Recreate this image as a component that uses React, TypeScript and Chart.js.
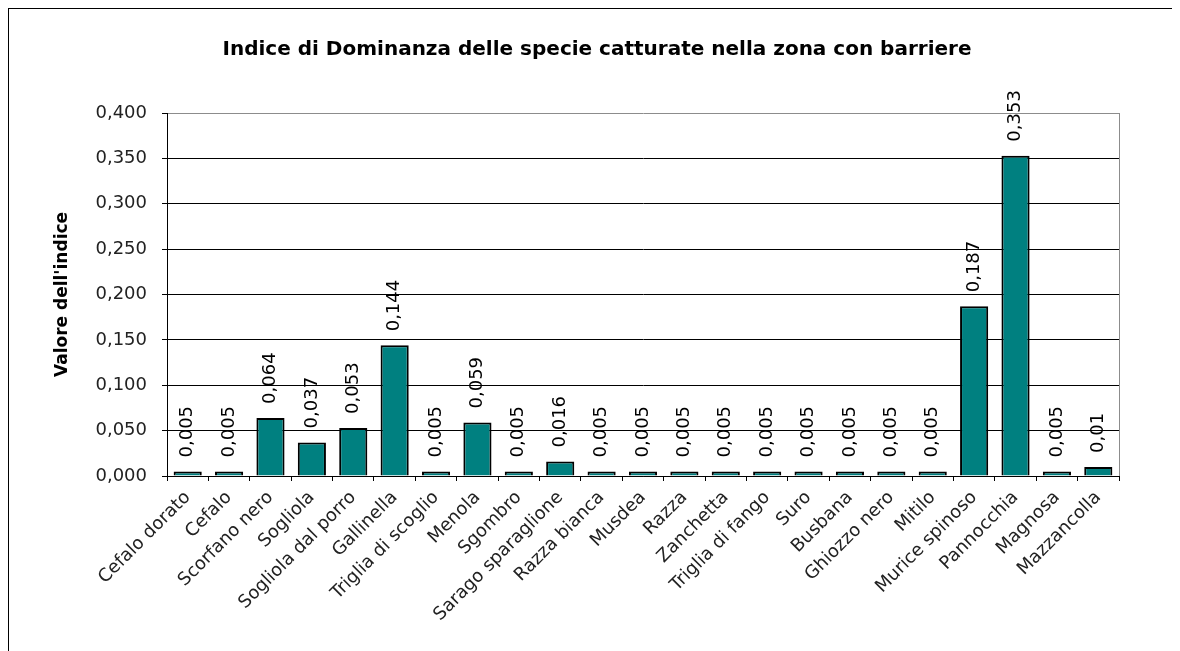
import React, { useEffect, useRef } from "react";
import { Chart, registerables } from "chart.js";

Chart.register(...registerables);

const species: string[] = [
  "Cefalo dorato", "Cefalo", "Scorfano nero", "Sogliola", "Sogliola dal porro",
  "Gallinella", "Triglia di scoglio", "Menola", "Sgombro", "Sarago sparaglione",
  "Razza bianca", "Musdea", "Razza", "Zanchetta", "Triglia di fango", "Suro",
  "Busbana", "Ghiozzo nero", "Mitilo", "Murice spinoso", "Pannocchia", "Magnosa",
  "Mazzancolla",
];
const dominanceValues: number[] = [
  0.005, 0.005, 0.064, 0.037, 0.053, 0.144, 0.005, 0.059, 0.005, 0.016, 0.005,
  0.005, 0.005, 0.005, 0.005, 0.005, 0.005, 0.005, 0.005, 0.187, 0.353, 0.005, 0.01,
];
const yMin = 0;
const yMax = 0.4;
const yStep = 0.05;

const chartTitle = "Indice di Dominanza delle specie catturate nella zona con barriere";
const yAxisTitle = "Valore dell'indice";

const FONT = "'DejaVu Sans', Verdana, sans-serif";
const CANVAS_W = 1163;
const CANVAS_H = 660;
const PLOT_LEFT = 158;
const PLOT_TOP = 104;
const PLOT_BOTTOM = 467;

const valueLabelPlugin = {
  id: "valueLabels",
  afterDatasetsDraw(chart: any) {
    const ctx = chart.ctx;
    const meta = chart.getDatasetMeta(0);
    ctx.save();
    ctx.font = `18px ${FONT}`;
    ctx.fillStyle = "#000";
    ctx.textAlign = "left";
    ctx.textBaseline = "middle";
    meta.data.forEach((bar: any, i: number) => {
      const txt = String(dominanceValues[i]).replace(".", ",");
      ctx.save();
      ctx.translate(bar.x, bar.y - 14);
      ctx.rotate(-Math.PI / 2);
      ctx.fillText(txt, 0, 0);
      ctx.restore();
    });
    ctx.restore();
  },
};

const frameEdgePlugin = {
  id: "frameEdge",
  afterDraw(chart: any) {
    const { ctx, chartArea } = chart;
    ctx.save();
    ctx.strokeStyle = "#8c8c8c";
    ctx.lineWidth = 1;
    ctx.beginPath();
    ctx.moveTo(Math.round(chartArea.right) + 0.5, chartArea.top);
    ctx.lineTo(Math.round(chartArea.right) + 0.5, chartArea.bottom);
    ctx.stroke();
    // title
    ctx.font = `bold 20px ${FONT}`;
    ctx.fillStyle = "#000";
    ctx.textAlign = "center";
    ctx.textBaseline = "middle";
    ctx.fillText(chartTitle, 588, 41);
    ctx.restore();
  },
};

export default function App() {
  const canvasRef = useRef<HTMLCanvasElement | null>(null);

  useEffect(() => {
    if (!canvasRef.current) return;
    const chart = new Chart(canvasRef.current, {
      type: "bar",
      data: {
        labels: species,
        datasets: [
          {
            data: dominanceValues,
            backgroundColor: "#008080",
            borderColor: "#000000",
            borderWidth: 2,
            barPercentage: 0.68,
            categoryPercentage: 1,
          },
        ],
      },
      options: {
        animation: false,
        responsive: false,
        layout: { padding: { left: 0, right: CANVAS_W - 1110, top: PLOT_TOP, bottom: 0 } },
        plugins: {
          legend: { display: false },
          tooltip: { enabled: false },
          title: { display: false },
        },
        scales: {
          x: {
            offset: true,
            afterFit(scale: any) {
              scale.height = CANVAS_H - PLOT_BOTTOM;
            },
            grid: {
              offset: true,
              drawOnChartArea: false,
              drawTicks: true,
              tickLength: 5,
              color: "#000",
            },
            border: { color: "#000", width: 1 },
            ticks: {
              autoSkip: false,
              maxRotation: 45,
              minRotation: 45,
              padding: 6,
              color: "#222",
              font: { family: FONT, size: 18 },
            },
          },
          y: {
            min: yMin,
            max: yMax,
            afterFit(scale: any) {
              scale.width = PLOT_LEFT;
            },
            grid: {
              color: (c: any) => (c.tick && c.tick.value >= yMax - 1e-9 ? "#8c8c8c" : "#000"),
              tickColor: "#000",
              tickLength: 5,
              lineWidth: 1,
            },
            border: { color: "#000", width: 1 },
            ticks: {
              stepSize: yStep,
              padding: 15,
              color: "#222",
              font: { family: FONT, size: 18 },
              callback: (v: any) => Number(v).toFixed(3).replace(".", ","),
            },
            title: {
              display: true,
              text: yAxisTitle,
              color: "#000",
              font: { family: FONT, size: 17, weight: "bold" },
              padding: { top: 43, bottom: 0 },
            },
          },
        },
      },
      plugins: [valueLabelPlugin, frameEdgePlugin],
    });
    return () => chart.destroy();
  }, []);

  return (
    <div
      style={{
        border: "1px solid #000",
        width: CANVAS_W,
        height: CANVAS_H,
        background: "#fff",
      }}
    >
      <canvas
        ref={canvasRef}
        width={CANVAS_W}
        height={CANVAS_H}
        style={{ display: "block", width: CANVAS_W, height: CANVAS_H }}
      />
    </div>
  );
}
